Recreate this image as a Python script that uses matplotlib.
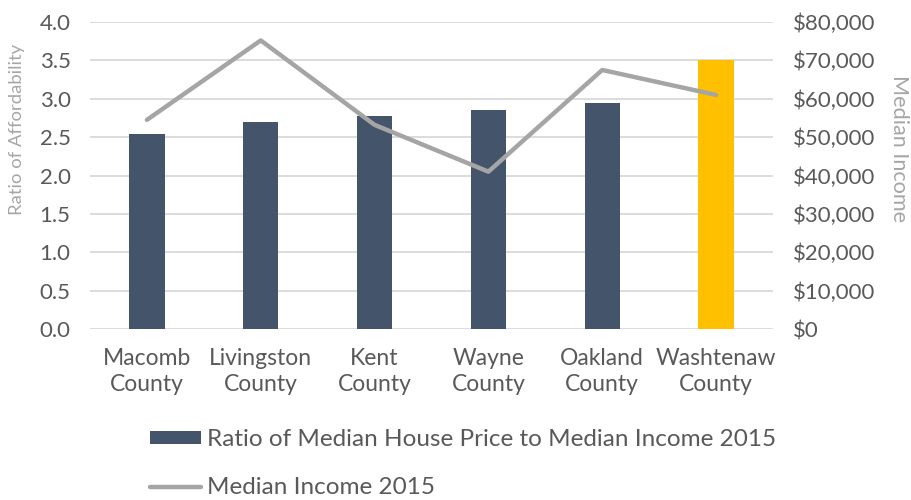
import matplotlib
matplotlib.use("Agg")
import matplotlib.pyplot as plt
from matplotlib.patches import Patch
from matplotlib.lines import Line2D
from matplotlib.ticker import FuncFormatter

plt.rcParams['font.family'] = ['Lato', 'DejaVu Sans']

categories = ["Macomb\nCounty", "Livingston\nCounty", "Kent\nCounty", "Wayne\nCounty", "Oakland\nCounty", "Washtenaw\nCounty"]
ratio = [2.54, 2.70, 2.78, 2.85, 2.95, 3.50]
income = [54500, 75200, 53200, 41000, 67500, 61000]
bar_label = "Ratio of Median House Price to Median Income 2015"
line_label = "Median Income 2015"

bar_color = "#44546A"
highlight = "#FFC000"
line_color = "#A5A5A5"
grid_color = "#D9D9D9"
tick_color = "#595959"
label_color = "#A6A6A6"

fig = plt.figure(figsize=(9.11, 5.0), dpi=100)
ax = fig.add_axes([90/911, 1-329/500, (773-90)/911, (329-22)/500])
x = list(range(len(categories)))
colors = [bar_color]*5 + [highlight]
ax.bar(x, ratio, width=0.31, color=colors, zorder=3)
ax.set_xlim(-0.5, 5.5)
ax.set_ylim(0, 4.0)
ax.set_yticks([i*0.5 for i in range(9)])
ax.yaxis.set_major_formatter(FuncFormatter(lambda v, p: f"{v:.1f}"))
ax.grid(axis='y', color=grid_color, linewidth=1.3, zorder=0)
for s in ax.spines.values():
    s.set_visible(False)
ax.tick_params(axis='y', length=0, pad=14, labelsize=16, labelcolor=tick_color)
ax.tick_params(axis='x', length=0, pad=14, labelsize=16.5, labelcolor=tick_color)
ax.set_xticks(x)
ax.set_xticklabels(categories, linespacing=1.25)
ax.set_ylabel("Ratio of Affordability", color=label_color, fontsize=13.3, va='center')
ax.yaxis.set_label_coords((17-90)/683, (329-129)/307)

ax2 = ax.twinx()
ax2.plot(x, income, color=line_color, linewidth=3.2, solid_capstyle='round', solid_joinstyle='round', zorder=4)
ax2.set_ylim(0, 80000)
ax2.set_yticks(range(0, 80001, 10000))
ax2.yaxis.set_major_formatter(FuncFormatter(lambda v, p: f"${int(v):,}"))
for s in ax2.spines.values():
    s.set_visible(False)
ax2.tick_params(axis='y', length=0, pad=14, labelsize=16, labelcolor=tick_color)
ax2.set_ylabel("Median Income", color=label_color, fontsize=15.6, rotation=270, va='center')
ax2.yaxis.set_label_coords((899-90)/683, (329-149)/307)

handles = [Patch(facecolor=bar_color, edgecolor='none'),
           Line2D([0], [0], color=line_color, linewidth=3.2, solid_capstyle='round')]
leg = fig.legend(handles, [bar_label, line_label], loc='upper left',
                 bbox_to_anchor=(150/911, 1-429/500), frameon=False,
                 fontsize=17.5, handlelength=2.1, handleheight=0.45,
                 handletextpad=0.25, labelspacing=1.12, borderaxespad=0,
                 borderpad=0)
for t in leg.get_texts():
    t.set_color(tick_color)

fig.savefig("out.png", dpi=100)
